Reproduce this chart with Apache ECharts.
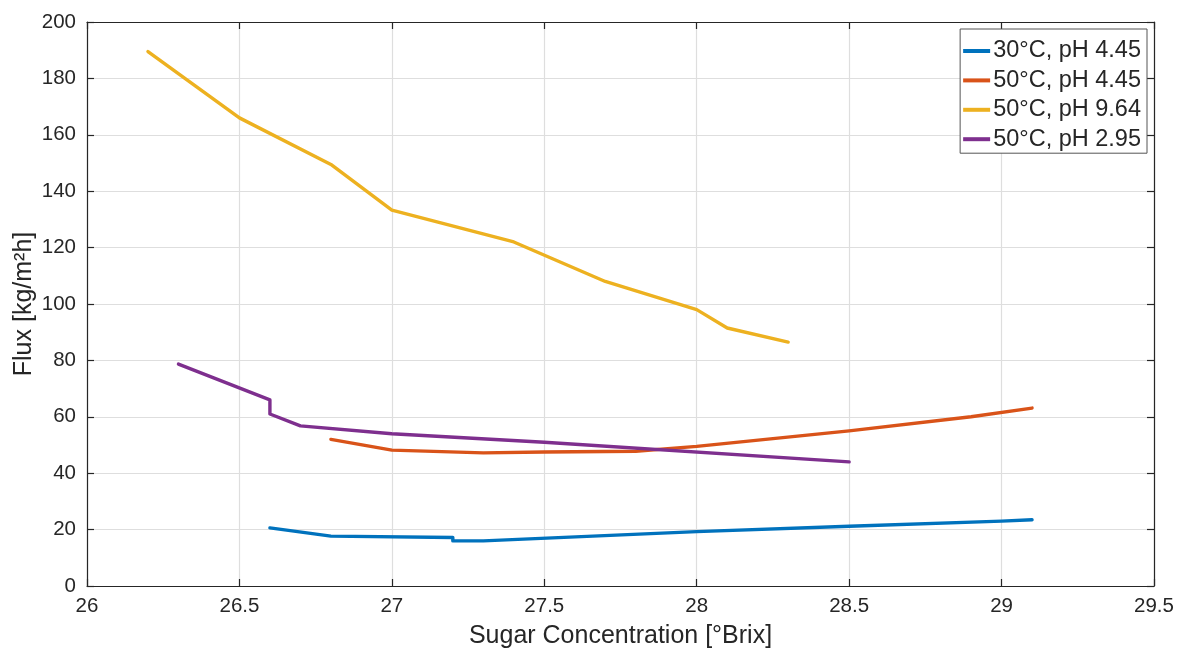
<!DOCTYPE html>
<html>
<head>
<meta charset="utf-8">
<script src="https://cdn.jsdelivr.net/npm/echarts@6/dist/echarts.min.js"></script>
<style>
  html, body { margin: 0; padding: 0; background: #fff; }
  #chart { width: 1181px; height: 655px; }
</style>
</head>
<body>
<div id="chart"></div>
<script>
// Permeate flux versus sugar concentration for four operating conditions
const seriesNames = ['30°C, pH 4.45', '50°C, pH 4.45', '50°C, pH 9.64', '50°C, pH 2.95'];
const seriesColors = ['#0072BD', '#D95319', '#EDB120', '#7E2F8E'];

const brix30ph445 = [26.6, 26.8, 27.2, 27.2, 27.3, 28.0, 28.5, 29.0, 29.1];
const flux30ph445 = [20.6, 17.7, 17.2, 16.0, 16.0, 19.3, 21.2, 23.0, 23.5];

const brix50ph445 = [26.8, 27.0, 27.3, 27.5, 27.8, 28.0, 28.5, 28.9, 29.1];
const flux50ph445 = [52.0, 48.2, 47.2, 47.5, 47.8, 49.5, 55.0, 60.0, 63.1];

const brix50ph964 = [26.2, 26.5, 26.8, 27.0, 27.4, 27.7, 28.0, 28.1, 28.3];
const flux50ph964 = [189.5, 166.0, 149.5, 133.3, 122.0, 108.0, 98.0, 91.5, 86.5];

const brix50ph295 = [26.3, 26.6, 26.6, 26.7, 27.0, 27.5, 28.5];
const flux50ph295 = [78.7, 66.0, 61.0, 56.8, 54.0, 51.0, 44.0];

const xTicks = [26, 26.5, 27, 27.5, 28, 28.5, 29, 29.5];
const yTicks = [0, 20, 40, 60, 80, 100, 120, 140, 160, 180, 200];

const zip = (xs, ys) => xs.map((x, i) => [x, ys[i]]);
const curves = [
  zip(brix30ph445, flux30ph445),
  zip(brix50ph445, flux50ph445),
  zip(brix50ph964, flux50ph964),
  zip(brix50ph295, flux50ph295)
];

const ink = '#262626';
const font = '"Liberation Sans", Arial, sans-serif';

const baseAxis = {
  type: 'value',
  axisLine: { show: true, onZero: false, lineStyle: { color: ink, width: 1.2 } },
  axisTick: { show: true, inside: true, length: 7, lineStyle: { color: ink, width: 1.2 } },
  splitLine: { show: false },
  axisLabel: { show: false }
};

const chart = echarts.init(document.getElementById('chart'), null, { renderer: 'canvas' });
chart.setOption({
  animation: false,
  backgroundColor: '#ffffff',
  grid: { left: 87, right: 27, top: 22, bottom: 69, containLabel: false, outerBoundsMode: 'none' },
  xAxis: [
    Object.assign({}, baseAxis, {
      position: 'bottom',
      min: xTicks[0], max: xTicks[xTicks.length - 1], interval: 0.5,
      name: 'Sugar Concentration [°Brix]',
      nameLocation: 'middle', nameGap: 38, nameMoveOverlap: false,
      nameTextStyle: { color: ink, fontSize: 25, fontFamily: font },
      splitLine: { show: true, lineStyle: { color: '#dedede', width: 1.2 } },
      axisLabel: { show: true, color: ink, fontSize: 20.5, fontFamily: font, margin: 10 }
    }),
    Object.assign({}, baseAxis, {
      position: 'top',
      min: xTicks[0], max: xTicks[xTicks.length - 1], interval: 0.5
    })
  ],
  yAxis: [
    Object.assign({}, baseAxis, {
      position: 'left',
      min: yTicks[0], max: yTicks[yTicks.length - 1], interval: 20,
      name: 'Flux [kg/m²h]',
      nameLocation: 'middle', nameGap: 50, nameRotate: 90, nameMoveOverlap: false,
      nameTextStyle: { color: ink, fontSize: 25, fontFamily: font },
      splitLine: { show: true, lineStyle: { color: '#dedede', width: 1.2 } },
      axisLabel: { show: true, color: ink, fontSize: 20.5, fontFamily: font, margin: 11 }
    }),
    Object.assign({}, baseAxis, {
      position: 'right',
      min: yTicks[0], max: yTicks[yTicks.length - 1], interval: 20
    })
  ],
  legend: {
    right: 34, top: 29,
    orient: 'vertical',
    backgroundColor: '#ffffff',
    borderColor: '#555555', borderWidth: 1,
    padding: [10, 6, 2, 3],
    itemGap: 5.4,
    itemWidth: 27, itemHeight: 4,
    icon: 'rect',
    textStyle: { color: ink, fontSize: 23.5, fontFamily: font, lineHeight: 24, padding: [0, 0, 0, -2] },
    data: seriesNames
  },
  series: curves.map((pts, i) => ({
    name: seriesNames[i],
    type: 'line',
    data: pts,
    showSymbol: false,
    symbol: 'none',
    color: seriesColors[i],
    lineStyle: { color: seriesColors[i], width: 3.4, join: 'round', cap: 'round' },
    itemStyle: { color: seriesColors[i] },
    z: 3 + i
  }))
});
</script>
</body>
</html>
